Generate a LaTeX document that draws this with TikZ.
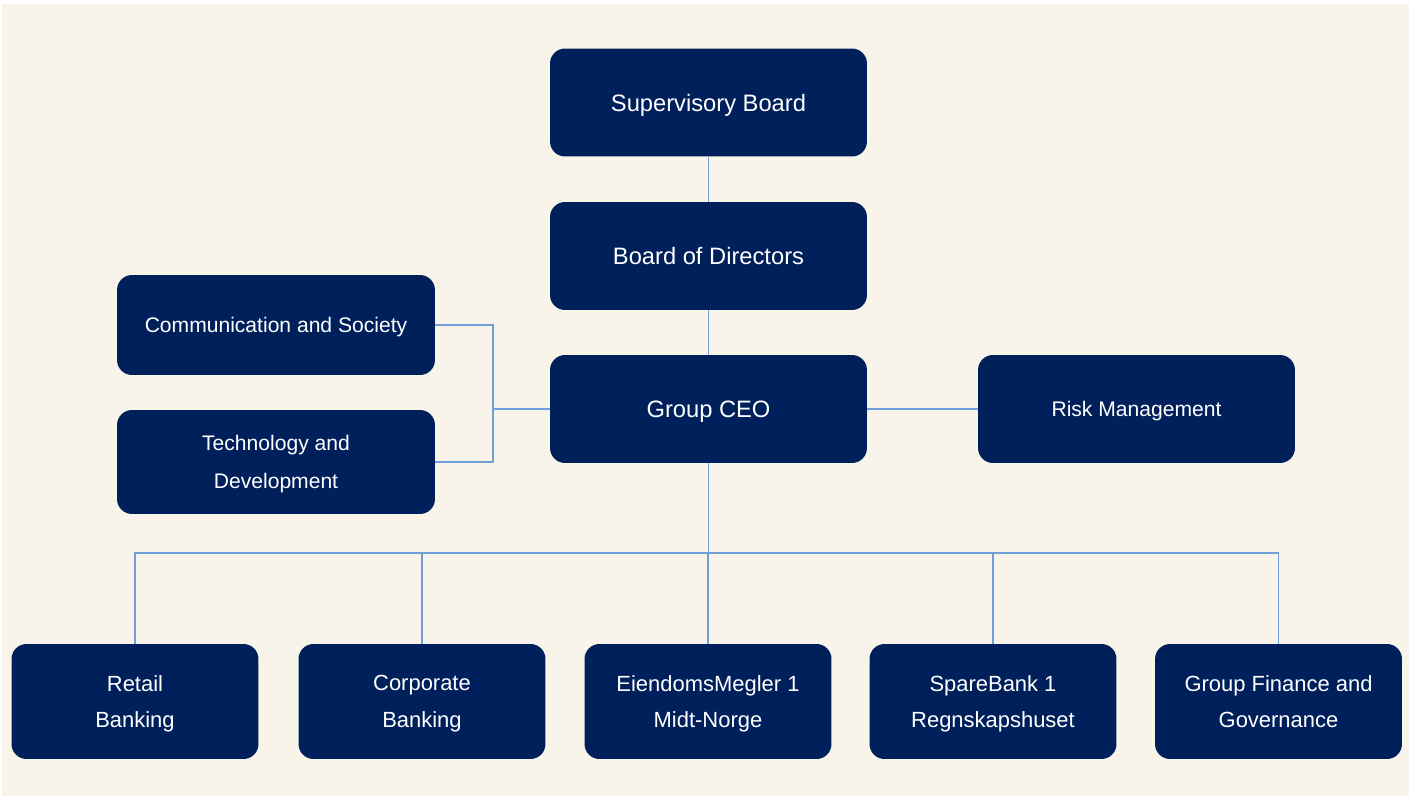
\documentclass[tikz,border=0pt]{standalone}
\usepackage{fontspec}
\setmainfont{Liberation Sans}
\usetikzlibrary{positioning}
\definecolor{navy}{HTML}{00205B}
\definecolor{sand}{HTML}{F8F4EA}
\definecolor{linkblue}{HTML}{6FA0D8}

\begin{document}
\begin{tikzpicture}[
  x=0.02cm, y=-0.02cm,
  unit/.style={draw=none, fill=navy, text=white, rounded corners=0.3cm,
    align=center, inner sep=0pt, text depth=-2pt},
  topunit/.style={unit, minimum width=6.34cm, minimum height=2.16cm,
    font=\fontsize{13.5}{18}\selectfont},
  staffunit/.style={unit, minimum width=6.36cm,
    font=\fontsize{12}{22}\selectfont},
  busunit/.style={unit, minimum width=4.94cm, minimum height=2.3cm,
    font=\fontsize{12.5}{21}\selectfont},
  link/.style={draw=linkblue, line width=0.8pt}
]

% background
\fill[white] (0,0) rectangle (1411,798);
\fill[sand] (2,4) rectangle (1409,796);
\useasboundingbox (0,0) rectangle (1411,798);

% governance line
\node[topunit] (super) at (708.5,102.5) {Supervisory Board};
\node[topunit] (board) at (708.5,256) {Board of Directors};
\node[topunit] (ceo) at (708.5,409) {Group CEO};
\node[topunit, font=\fontsize{12}{18}\selectfont] (risk) at (1136.5,409) {Risk Management};

% staff functions
\node[staffunit, minimum height=2cm] (comm) at (276,325) {Communication and Society};
\node[staffunit, minimum height=2.08cm] (tech) at (276,462) {Technology and\\Development};

% business areas
\node[busunit] (retail) at (135,701.5) {Retail\\Banking};
\node[busunit] (corp) at (422,701.5) {Corporate\\Banking};
\node[busunit] (megler) at (708,701.5) {EiendomsMegler 1\\Midt-Norge};
\node[busunit] (regn) at (993,701.5) {SpareBank 1\\Regnskapshuset};
\node[busunit] (finance) at (1278.5,701.5) {Group Finance and\\Governance};

\coordinate (staffbus) at (493,409);
\coordinate (bus) at (708.5,553);

\draw[link] (super) -- (board);
\draw[link] (board) -- (ceo);
\draw[link] (ceo) -- (risk);
\draw[link] (ceo.west) -- (staffbus);
\draw[link] (comm.east) -| (staffbus);
\draw[link] (tech.east) -| (staffbus);
\draw[link] (ceo.south) -- (bus);
\foreach \unit in {retail,corp,megler,regn,finance}
  \draw[link] (bus) -| (\unit.north);
\end{tikzpicture}
\end{document}
